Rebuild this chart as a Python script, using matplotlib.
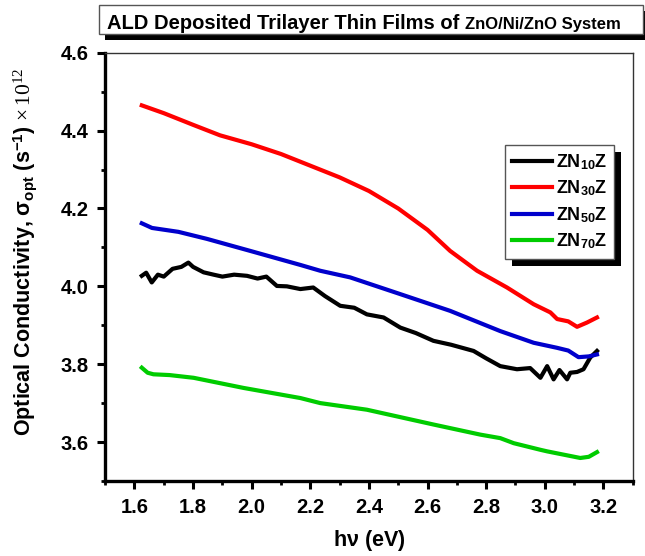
import matplotlib
matplotlib.use("Agg")
import matplotlib.pyplot as plt
from matplotlib.patches import Rectangle
from matplotlib.transforms import IdentityTransform
from matplotlib.ticker import MultipleLocator

plt.rcParams['font.family'] = ['Liberation Sans', 'DejaVu Sans']
plt.rcParams['mathtext.fontset'] = 'custom'
plt.rcParams['mathtext.rm'] = 'Liberation Serif'
plt.rcParams['mathtext.bf'] = 'Liberation Sans:bold'
plt.rcParams['mathtext.it'] = 'Liberation Serif:italic'

# photon energy (eV) and optical conductivity (x 1e12 s^-1)
zn10_x = [1.625, 1.64, 1.659, 1.68, 1.70, 1.73, 1.76, 1.784, 1.80, 1.836,
          1.87, 1.90, 1.94, 1.984, 2.02, 2.05, 2.086, 2.12, 2.166, 2.21,
          2.25, 2.302, 2.35, 2.393, 2.45, 2.507, 2.56, 2.62, 2.68, 2.757,
          2.80, 2.848, 2.905, 2.95, 2.985, 3.008, 3.03, 3.05, 3.076, 3.087,
          3.11, 3.132, 3.155, 3.178]
zn10_y = [4.027, 4.035, 4.010, 4.030, 4.025, 4.045, 4.050, 4.061, 4.050, 4.036,
          4.030, 4.025, 4.030, 4.027, 4.020, 4.025, 4.001, 4.000, 3.993, 3.997,
          3.975, 3.950, 3.945, 3.928, 3.920, 3.894, 3.880, 3.860, 3.850, 3.834,
          3.815, 3.795, 3.787, 3.790, 3.765, 3.795, 3.761, 3.785, 3.761, 3.778,
          3.780, 3.787, 3.817, 3.834]

zn30_x = [1.625, 1.70, 1.80, 1.892, 2.0, 2.1, 2.2, 2.3, 2.4, 2.5, 2.6,
          2.677, 2.769, 2.871, 2.962, 3.019, 3.042, 3.08, 3.110, 3.144, 3.178]
zn30_y = [4.465, 4.445, 4.415, 4.388, 4.365, 4.340, 4.310, 4.280, 4.245, 4.200,
          4.145, 4.091, 4.040, 3.997, 3.954, 3.933, 3.916, 3.910, 3.896, 3.907, 3.920]

zn50_x = [1.625, 1.66, 1.75, 1.847, 2.0, 2.166, 2.234, 2.336, 2.507, 2.677,
          2.848, 2.962, 3.042, 3.08, 3.115, 3.15, 3.178]
zn50_y = [4.162, 4.150, 4.140, 4.122, 4.090, 4.055, 4.040, 4.023, 3.980, 3.937,
          3.885, 3.855, 3.842, 3.835, 3.818, 3.820, 3.825]

zn70_x = [1.625, 1.645, 1.665, 1.72, 1.802, 1.972, 2.166, 2.234, 2.393, 2.62,
          2.78, 2.848, 2.894, 2.985, 3.008, 3.121, 3.15, 3.178]
zn70_y = [3.791, 3.778, 3.774, 3.772, 3.765, 3.739, 3.713, 3.700, 3.683, 3.645,
          3.619, 3.610, 3.597, 3.580, 3.576, 3.559, 3.562, 3.574]

series = [
    (zn10_x, zn10_y, 'black', r'ZN$_{\mathbf{10}}$Z'),
    (zn30_x, zn30_y, 'red', r'ZN$_{\mathbf{30}}$Z'),
    (zn50_x, zn50_y, '#0000cc', r'ZN$_{\mathbf{50}}$Z'),
    (zn70_x, zn70_y, '#00cc00', r'ZN$_{\mathbf{70}}$Z'),
]

fig = plt.figure(figsize=(6.45, 5.56), dpi=100)
ax = fig.add_axes([0.163, 0.135, 0.818, 0.770])

for x, y, c, lab in series:
    ax.plot(x, y, color=c, lw=3.0, label=lab, solid_joinstyle='round')

ax.set_xlim(1.5, 3.3)
ax.set_ylim(3.5, 4.6)
ax.xaxis.set_major_locator(MultipleLocator(0.2))
ax.xaxis.set_minor_locator(MultipleLocator(0.1))
ax.yaxis.set_major_locator(MultipleLocator(0.2))
ax.yaxis.set_minor_locator(MultipleLocator(0.1))
ax.tick_params(which='major', direction='out', length=6, width=2.2,
               labelsize=14.5, pad=6)
ax.tick_params(which='minor', direction='out', length=3, width=2.0)
for lbl in ax.get_xticklabels() + ax.get_yticklabels():
    lbl.set_fontweight('bold')

for side in ('left', 'bottom'):
    ax.spines[side].set_linewidth(2.4)
for side in ('top', 'right'):
    ax.spines[side].set_linewidth(1.0)
    ax.spines[side].set_color('#333333')

ax.set_xlabel(r'h$\mathbf{\nu}$ (eV)', fontsize=15.5, fontweight='bold', labelpad=8)
ax.set_ylabel(r'Optical Conductivity, $\mathbf{\sigma_{opt}}$ (s$^{\mathbf{-1}}$) $\times\,10^{12}$',
              fontsize=15.5, fontweight='bold')
ax.yaxis.set_label_coords(-0.125, 0.535)

leg = ax.legend(loc='upper left', bbox_to_anchor=(0.758, 0.785),
                prop={'weight': 'bold', 'size': 13}, frameon=True, fancybox=False,
                framealpha=1, handlelength=2.2, handletextpad=0.2,
                labelspacing=0.38, borderpad=0.4, borderaxespad=0)
leg.get_frame().set_edgecolor('#555555')
leg.get_frame().set_linewidth(1.0)
leg.set_zorder(10)
for h in leg.get_lines():
    h.set_linewidth(3)

# title box with a drop shadow
fig.patches.append(Rectangle((105 / 645, 1 - 40 / 556), 545 / 645, 29 / 556,
                             transform=fig.transFigure, facecolor='black',
                             edgecolor='none', zorder=1))
fig.patches.append(Rectangle((99 / 645, 1 - 34 / 556), 544 / 645, 29 / 556,
                             transform=fig.transFigure, facecolor='white',
                             edgecolor='#555555', lw=1.0, zorder=2))
t1 = fig.text(107 / 645, 1 - 29 / 556, 'ALD Deposited Trilayer Thin Films of ',
              fontsize=14.5, fontweight='bold', va='baseline', zorder=3)
t2 = fig.text(0.5, 1 - 29 / 556, 'ZnO/Ni/ZnO System', fontsize=12,
              fontweight='bold', va='baseline', zorder=3)

fig.canvas.draw()
r = fig.canvas.get_renderer()
bb = t1.get_window_extent(r)
t2.set_x(bb.x1 / fig.bbox.width)

# legend drop shadow, kept inside the axes so it sits under the legend
lb = leg.get_window_extent(r)
ax.add_artist(Rectangle((lb.x0 + 7, lb.y0 - 7), lb.width, lb.height,
                        transform=IdentityTransform(), facecolor='black',
                        edgecolor='none', zorder=9, clip_on=False))

fig.savefig('out.png', dpi=100)
